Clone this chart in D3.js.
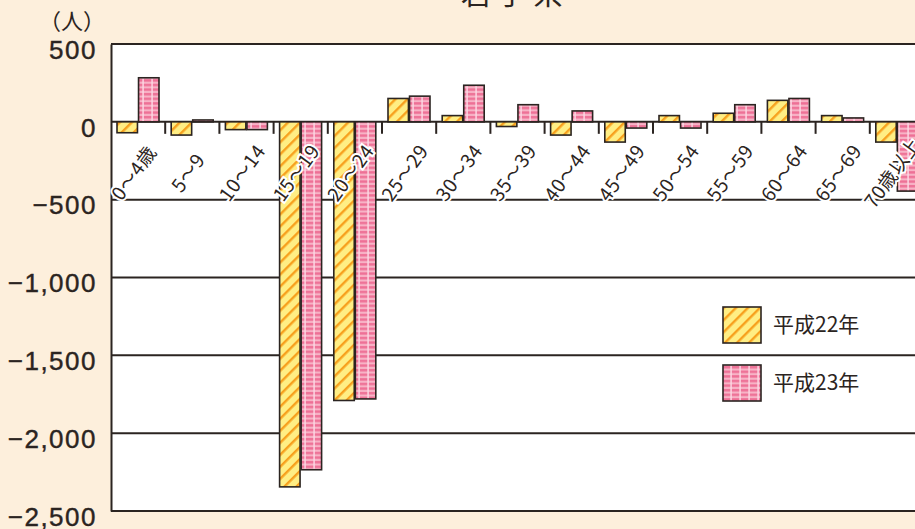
<!DOCTYPE html>
<html>
<head>
<meta charset="utf-8">
<script src="https://cdn.jsdelivr.net/npm/d3@7"></script>
<style>
  html, body { margin: 0; padding: 0; background: #fdefdc; overflow: hidden; }
  svg { display: block; }
</style>
</head>
<body>
<svg id="chart"></svg>
<script>
var width = 915;
var height = 529;

// age groups and the two years
var ages = ["0～4歳", "5～9", "10～14", "15～19", "20～24", "25～29", "30～34", "35～39",
    "40～44", "45～49", "50～54", "55～59", "60～64", "65～69", "70歳以上"];
var series = ["平成22年", "平成23年"];
var h22 = [-70, -85, -50, -2345, -1790, 150, 40, -30, -85, -130, 40, 55, 138, 40, -130];
var h23 = [283, 12, -50, -2235, -1780, 165, 235, 110, 70, -40, -40, 110, 150, 25, -445];
var yTicks = [500, 0, -500, -1000, -1500, -2000, -2500];

var ink = "#2b2421";

var svg = d3.select("#chart")
    .attr("width", width)
    .attr("height", height);

var defs = svg.append("defs");

// yellow with orange diagonal stripes
var pY = defs.append("pattern")
    .attr("id", "patY")
    .attr("patternUnits", "userSpaceOnUse")
    .attr("width", 8.5)
    .attr("height", 8.5)
    .attr("patternTransform", "rotate(45)");
pY.append("rect").attr("width", 8.5).attr("height", 8.5).attr("fill", "#ffee84");
pY.append("rect").attr("x", 0).attr("width", 2.4).attr("height", 8.5).attr("fill", "#f7a11e");

// pink with darker dashes
var pP = defs.append("pattern")
    .attr("id", "patP")
    .attr("patternUnits", "userSpaceOnUse")
    .attr("width", 9)
    .attr("height", 4.6);
pP.append("rect").attr("width", 9).attr("height", 4.6).attr("fill", "#f7b3c6");
pP.append("rect").attr("y", 1).attr("width", 9).attr("height", 2.4).attr("fill", "#ee7096");
pP.append("rect").attr("x", 7.2).attr("width", 1.8).attr("height", 4.6).attr("fill", "#fcd8e3").attr("opacity", 0.8);

var fills = { "平成22年": "url(#patY)", "平成23年": "url(#patP)" };

var x = d3.scaleBand()
    .domain(ages)
    .range([111, 111 + 15 * 54.2]);

var x1 = d3.scaleBand()
    .domain(series)
    .range([6, 48])
    .paddingInner(0.05);

var y = d3.scaleLinear()
    .domain([-2500, 500])
    .range([511, 44]);

// title, cut off by the top edge
svg.append("text")
    .attr("x", 515)
    .attr("y", 4)
    .attr("text-anchor", "middle")
    .attr("font-family", "Noto Sans CJK JP")
    .attr("font-size", "30px")
    .attr("letter-spacing", "6px")
    .attr("fill", ink)
    .text("岩手県");

svg.append("rect")
    .attr("x", x.range()[0])
    .attr("y", y(500))
    .attr("width", x.range()[1] - x.range()[0])
    .attr("height", y(-2500) - y(500))
    .attr("fill", "#ffffff");

svg.selectAll(".grid")
    .data(yTicks)
    .enter()
    .append("line")
    .attr("class", "grid")
    .attr("x1", x.range()[0])
    .attr("x2", x.range()[1])
    .attr("y1", function (d) { return y(d); })
    .attr("y2", function (d) { return y(d); })
    .attr("stroke", ink)
    .attr("stroke-width", 2);

// y axis
var yAxis = d3.axisLeft(y)
    .tickValues(yTicks)
    .tickSize(0)
    .tickPadding(14)
    .tickFormat(function (d) {
        var s = d3.format(",")(Math.abs(d));
        return d < 0 ? "−" + s : s;
    });

var ga = svg.append("g")
    .attr("transform", "translate(" + x.range()[0] + ",0)")
    .call(yAxis);
ga.select(".domain").attr("stroke", ink).attr("stroke-width", 2);
ga.selectAll("text")
    .attr("dy", "0.55em")
    .attr("font-family", "Liberation Sans")
    .attr("font-size", "26px")
    .attr("letter-spacing", "1.5px")
    .attr("fill", ink)
    .attr("stroke", ink)
    .attr("stroke-width", 0.4);

svg.append("text")
    .attr("x", 72)
    .attr("y", 29)
    .attr("text-anchor", "middle")
    .attr("font-family", "Noto Sans CJK JP")
    .attr("font-size", "22px")
    .attr("fill", ink)
    .text("（人）");

// bars
var rows = [];
for (var i = 0; i < ages.length; i++) {
    rows.push({ age: ages[i], s: series[0], v: h22[i] });
    rows.push({ age: ages[i], s: series[1], v: h23[i] });
}

svg.selectAll(".bar")
    .data(rows)
    .enter()
    .append("rect")
    .attr("class", "bar")
    .attr("x", function (d) { return x(d.age) + x1(d.s); })
    .attr("width", x1.bandwidth())
    .attr("y", function (d) { return y(Math.max(0, d.v)); })
    .attr("height", function (d) { return Math.abs(y(d.v) - y(0)); })
    .attr("fill", function (d) { return fills[d.s]; })
    .attr("stroke", ink)
    .attr("stroke-width", 1.6);

// tick marks between groups, below zero
svg.selectAll(".tick-mark")
    .data(ages.slice(1))
    .enter()
    .append("line")
    .attr("x1", function (d) { return x(d); })
    .attr("x2", function (d) { return x(d); })
    .attr("y1", y(0))
    .attr("y2", y(0) + 12)
    .attr("stroke", ink)
    .attr("stroke-width", 2);

// rotated category labels
svg.selectAll(".cat")
    .data(ages)
    .enter()
    .append("text")
    .attr("class", "cat")
    .attr("transform", function (d) {
        return "translate(" + (x(d) + x.bandwidth() / 2 - 4) + ",173) rotate(-54)";
    })
    .attr("text-anchor", "middle")
    .attr("dy", "0.35em")
    .attr("font-family", "Noto Sans CJK JP")
    .attr("font-size", "19px")
    .attr("letter-spacing", "0.5px")
    .attr("fill", ink)
    .attr("stroke", "#ffffff")
    .attr("stroke-width", 4)
    .attr("paint-order", "stroke")
    .text(function (d) { return d; });

// legend
var legend = svg.selectAll(".legend")
    .data(series)
    .enter()
    .append("g")
    .attr("transform", function (d, i) {
        return "translate(723," + (307 + i * 58) + ")";
    });

legend.append("rect")
    .attr("width", 38)
    .attr("height", 36)
    .attr("fill", function (d) { return fills[d]; })
    .attr("stroke", ink)
    .attr("stroke-width", 1.6);

legend.append("text")
    .attr("x", 50)
    .attr("y", 18)
    .attr("dy", "0.35em")
    .attr("font-family", "Noto Sans CJK JP")
    .attr("font-size", "21px")
    .attr("fill", ink)
    .text(function (d) { return d; });
</script>
</body>
</html>
